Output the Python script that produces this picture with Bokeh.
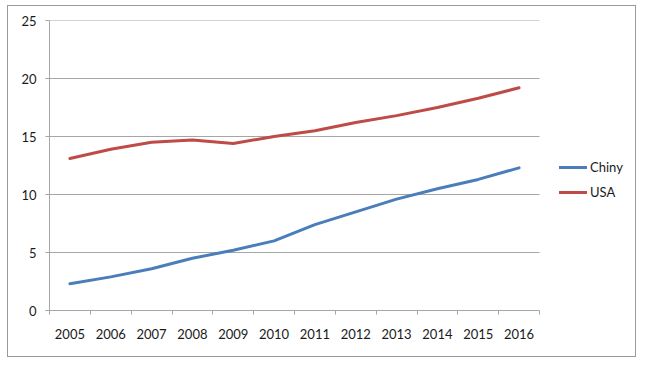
from bokeh.plotting import figure
from bokeh.models import FixedTicker, Legend, LegendItem, Range1d
from bokeh.embed import file_html
from bokeh.resources import INLINE

years = [2005, 2006, 2007, 2008, 2009, 2010, 2011, 2012, 2013, 2014, 2015, 2016]
chiny = [2.3, 2.9, 3.6, 4.5, 5.2, 6.0, 7.4, 8.5, 9.6, 10.5, 11.3, 12.3]
usa = [13.1, 13.9, 14.5, 14.7, 14.4, 15.0, 15.5, 16.2, 16.8, 17.5, 18.3, 19.2]
y_ticks = [0, 5, 10, 15, 20, 25]
series_names = ["Chiny", "USA"]

FONT = "Lato"
GRID = "#a6a6a6"
TEXT = "#1a1a1a"

# layout in pixels
W, H = 627, 350
LEFT, TOP, BOTTOM = 41, 14, 46
PLOT_W = 490          # width of the axis area
EXTRA_W = W - LEFT - PLOT_W  # room for the legend, inside the frame

x0 = years[0] - 0.5
x1 = years[-1] + 0.5
px_per_unit = PLOT_W / (x1 - x0)
x_end = x1 + EXTRA_W / px_per_unit

p = figure(width=W, height=H, output_backend="svg", toolbar_location=None,
           x_range=Range1d(x0, x_end), y_range=Range1d(0, 25),
           min_border_left=LEFT, min_border_right=0, min_border_top=TOP, min_border_bottom=BOTTOM)
p.styles = {"outline": "1px solid #9a9a9a", "margin-left": "8px", "margin-top": "6px"}
p.outline_line_color = None
p.background_fill_color = "white"
p.border_fill_color = "white"

# y axis
p.yaxis.ticker = FixedTicker(ticks=y_ticks)
p.yaxis.axis_line_color = GRID
p.yaxis.major_tick_line_color = GRID
p.yaxis.major_tick_out = 4
p.yaxis.major_tick_in = 0
p.yaxis.minor_tick_line_color = None
p.yaxis.major_label_text_font = FONT
p.yaxis.major_label_text_font_size = "13px"
p.yaxis.major_label_text_color = TEXT
p.yaxis.major_label_standoff = 9

# x axis: labels at centers, tick marks at category boundaries
bounds = [y - 0.5 for y in years] + [years[-1] + 0.5]
p.xaxis.ticker = FixedTicker(ticks=years, minor_ticks=bounds)
p.xaxis.bounds = (x0, x1)
p.xaxis.axis_line_color = GRID
p.xaxis.major_tick_line_color = None
p.xaxis.major_tick_out = 0
p.xaxis.major_tick_in = 0
p.xaxis.minor_tick_line_color = GRID
p.xaxis.minor_tick_out = 4
p.xaxis.minor_tick_in = 0
p.xaxis.major_label_text_font = FONT
p.xaxis.major_label_text_font_size = "13px"
p.xaxis.major_label_text_color = TEXT
p.xaxis.major_label_standoff = 14

p.xgrid.grid_line_color = None
p.ygrid.grid_line_color = None
grid_y = y_ticks[1:]
p.segment(x0=[x0] * len(grid_y), x1=[x1] * len(grid_y), y0=grid_y, y1=grid_y,
          line_color=GRID, line_width=1)

r1 = p.line(years, chiny, line_color="#4a7ebb", line_width=3, line_join="round", line_cap="round")
r2 = p.line(years, usa, line_color="#be4b48", line_width=3, line_join="round", line_cap="round")

legend = Legend(items=[LegendItem(label=series_names[0], renderers=[r1]),
                       LegendItem(label=series_names[1], renderers=[r2])],
                location=(510, 108), orientation="vertical",
                glyph_width=28, glyph_height=20, label_height=20, spacing=5,
                padding=0, margin=0, label_standoff=3,
                border_line_color=None, background_fill_alpha=0,
                label_text_font=FONT, label_text_font_size="13px", label_text_color=TEXT)
p.add_layout(legend)

open("out.html", "w").write(file_html(p, INLINE))
